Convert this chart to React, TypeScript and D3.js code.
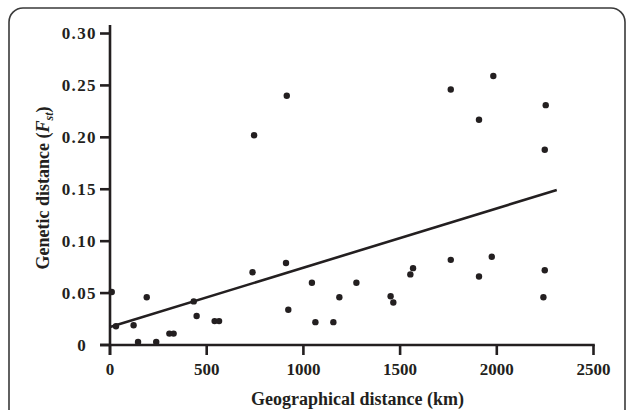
import React from "react";
import * as d3 from "d3";

const geoKm = [9, 31, 122, 145, 190, 239, 307, 329, 433, 448, 541, 564, 737, 745, 914, 910, 922, 1044, 1062, 1155, 1186, 1274, 1451, 1465, 1553, 1567, 1762, 1762, 1908, 1908, 1982, 1974, 2253, 2248, 2248, 2241];
const fstValues = [0.051, 0.018, 0.019, 0.003, 0.046, 0.003, 0.011, 0.011, 0.042, 0.028, 0.023, 0.023, 0.070, 0.202, 0.240, 0.079, 0.034, 0.060, 0.022, 0.022, 0.046, 0.060, 0.047, 0.041, 0.068, 0.074, 0.246, 0.082, 0.217, 0.066, 0.259, 0.085, 0.231, 0.188, 0.072, 0.046];

const fitKm = [0, 2310];
const fitFst = [0.0173, 0.1493];

const xTicks = [0, 500, 1000, 1500, 2000, 2500];
const xTickLabels = ["0", "500", "1000", "1500", "2000", "2500"];
const yTicks = [0, 0.05, 0.1, 0.15, 0.2, 0.25, 0.3];
const yTickLabels = ["0", "0.05", "0.10", "0.15", "0.20", "0.25", "0.30"];

const INK = "#231f20";
const FONT = "'Liberation Serif', 'Times New Roman', serif";

export default function App() {
  const x = d3.scaleLinear().domain([0, 2500]).range([110, 593.5]);
  const y = d3.scaleLinear().domain([0, 0.3]).range([345, 33.5]);
  const fitLine = d3.line<number>().x((d, i) => x(fitKm[i])).y((d) => y(d))(fitFst) || "";

  return (
    <svg width={627} height={410} style={{ position: "absolute", left: 0, top: 0, background: "#fff" }} fontFamily={FONT}>
      <rect x={9} y={8} width={616} height={440} rx={14} ry={14} fill="none" stroke="#3a3a3a" strokeWidth={1.6} />
      {/* axes */}
      <line x1={x(0)} x2={x(0)} y1={25} y2={y(0) + 10} stroke={INK} strokeWidth={2.6} />
      <line x1={x(0) - 10} x2={x(2500) + 1.3} y1={y(0)} y2={y(0)} stroke={INK} strokeWidth={2.6} />
      {yTicks.map((t, i) => (
        <g key={"y" + i}>
          <line x1={x(0) - 10} x2={x(0)} y1={y(t)} y2={y(t)} stroke={INK} strokeWidth={2.6} />
          <text
            x={i === 0 ? 81.5 : 97}
            y={y(t) + 5.8}
            textAnchor={i === 0 ? "middle" : "end"}
            fontSize={17}
            fontWeight="bold"
            letterSpacing={i === 0 ? 0 : 1.4}
            fill={INK}
          >
            {yTickLabels[i]}
          </text>
        </g>
      ))}
      {xTicks.map((t, i) => (
        <g key={"x" + i}>
          <line x1={x(t)} x2={x(t)} y1={y(0)} y2={y(0) + 10} stroke={INK} strokeWidth={2.6} />
          <text x={x(t)} y={375} textAnchor="middle" fontSize={17} fontWeight="bold" fill={INK}>
            {xTickLabels[i]}
          </text>
        </g>
      ))}
      {/* regression line */}
      <path d={fitLine} fill="none" stroke={INK} strokeWidth={2.6} />
      {/* points */}
      {geoKm.map((g, i) => (
        <circle key={"p" + i} cx={x(g)} cy={y(fstValues[i])} r={3.2} fill={INK} />
      ))}
      {/* titles */}
      <text x={357.5} y={405} textAnchor="middle" fontSize={18} fontWeight="bold" fill={INK}>
        Geographical distance (km)
      </text>
      <text transform={`translate(49,188) rotate(-90)`} textAnchor="middle" fontSize={18} fontWeight="bold" fill={INK}>
        Genetic distance (<tspan fontStyle="italic">F</tspan>
        <tspan fontStyle="italic" fontSize={12} dy={4}>st</tspan>
        <tspan dy={-4}>)</tspan>
      </text>
    </svg>
  );
}
